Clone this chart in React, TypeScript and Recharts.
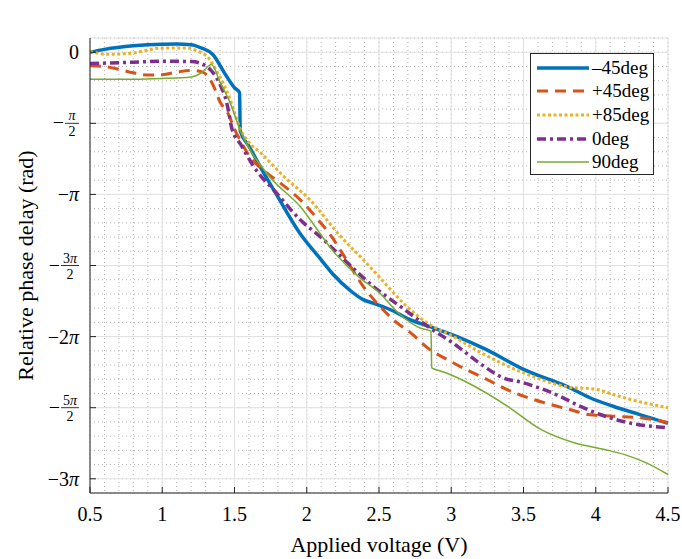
import { CartesianGrid, Legend, Line, LineChart, XAxis, YAxis } from "recharts";

const FONT = '"Liberation Serif", "Times New Roman", serif';
const INK = "#262626";

// applied voltage (V) and relative phase delay in units of pi, one pair per polarization
const voltsM45 = [0.5, 0.6, 0.8, 1.0, 1.1, 1.2, 1.27, 1.35, 1.43, 1.5, 1.535, 1.54, 1.6, 1.7, 1.79, 1.95, 2.1, 2.18, 2.3, 2.39, 2.46, 2.6, 2.69, 2.88, 3.04, 3.24, 3.5, 3.8, 3.96, 4.12, 4.31, 4.5];
const phaseM45 = [0, 0.02, 0.045, 0.056, 0.057, 0.053, 0.03, -0.016, -0.145, -0.25, -0.285, -0.555, -0.66, -0.845, -1.0, -1.27, -1.46, -1.56, -1.675, -1.74, -1.765, -1.82, -1.87, -1.94, -2.0, -2.09, -2.23, -2.35, -2.43, -2.49, -2.55, -2.61];

const voltsP45 = [0.5, 0.6, 0.7, 0.8, 0.9, 1.0, 1.1, 1.2, 1.28, 1.35, 1.4, 1.455, 1.5, 1.54, 1.61, 1.7, 1.815, 1.976, 2.08, 2.17, 2.25, 2.4, 2.507, 2.62, 2.715, 2.85, 2.97, 3.1, 3.245, 3.38, 3.5, 3.66, 3.82, 3.96, 4.12, 4.31, 4.5];
const phaseP45 = [-0.095, -0.1, -0.12, -0.145, -0.16, -0.158, -0.14, -0.128, -0.14, -0.227, -0.35, -0.43, -0.54, -0.62, -0.74, -0.83, -0.918, -1.059, -1.18, -1.294, -1.42, -1.66, -1.788, -1.9, -1.97, -2.09, -2.16, -2.23, -2.3, -2.37, -2.419, -2.47, -2.513, -2.55, -2.56, -2.571, -2.604];

const voltsP85 = [0.5, 0.62, 0.8, 0.98, 1.17, 1.245, 1.32, 1.37, 1.42, 1.47, 1.5, 1.54, 1.6, 1.68, 1.84, 2.02, 2.23, 2.41, 2.51, 2.69, 2.85, 3.01, 3.2, 3.5, 3.8, 4.01, 4.12, 4.24, 4.5];
const phaseP85 = [0.005, -0.015, -0.005, 0.028, 0.03, 0.007, -0.04, -0.12, -0.215, -0.333, -0.426, -0.54, -0.635, -0.707, -0.872, -1.036, -1.29, -1.48, -1.59, -1.786, -1.915, -1.997, -2.11, -2.255, -2.353, -2.372, -2.407, -2.442, -2.5];

const voltsZero = [0.5, 0.8, 1.0, 1.2, 1.27, 1.33, 1.37, 1.41, 1.44, 1.46, 1.48, 1.55, 1.63, 1.79, 1.953, 2.115, 2.25, 2.46, 2.645, 2.85, 3.01, 3.2, 3.36, 3.5, 3.75, 3.89, 4.03, 4.21, 4.5];
const phaseZero = [-0.08, -0.07, -0.063, -0.066, -0.08, -0.12, -0.17, -0.25, -0.33, -0.42, -0.53, -0.66, -0.8, -0.989, -1.177, -1.317, -1.45, -1.646, -1.786, -1.938, -2.044, -2.19, -2.29, -2.325, -2.419, -2.489, -2.548, -2.602, -2.641];

const voltsNinety = [0.5, 0.8, 1.0, 1.2, 1.27, 1.34, 1.4, 1.47, 1.54, 1.72, 1.953, 2.2, 2.36, 2.5, 2.645, 2.78, 2.86, 2.865, 2.92, 3.0, 3.16, 3.39, 3.62, 3.85, 4.06, 4.2, 4.35, 4.5];
const phaseNinety = [-0.19, -0.19, -0.185, -0.174, -0.145, -0.087, -0.21, -0.356, -0.55, -0.848, -1.083, -1.42, -1.58, -1.69, -1.845, -1.938, -1.962, -2.22, -2.24, -2.27, -2.349, -2.49, -2.653, -2.747, -2.794, -2.83, -2.888, -2.97];

const xTicks = [0.5, 1, 1.5, 2, 2.5, 3, 3.5, 4, 4.5];
const yTicks = [-3, -2.5, -2, -1.5, -1, -0.5, 0];
const yTickLabels = ["−3π", "−5π/2", "−2π", "−3π/2", "−π", "−π/2", "0"];

// minor grid every 0.1 V and every pi/10
const xMinorTicks = Array.from({ length: 41 }, (_, i) => Math.round((0.5 + i * 0.1) * 10) / 10);
const yMinorTicks = Array.from({ length: 33 }, (_, i) => Math.round((-3.1 + i * 0.1) * 10) / 10);

const zip = (volts: number[], phase: number[]) => volts.map((v, i) => ({ v, p: phase[i] }));

const series = [
  { key: "m45", name: "–45deg", data: zip(voltsM45, phaseM45), color: "#0072BD", width: 3.5, dash: undefined },
  { key: "p45", name: "+45deg", data: zip(voltsP45, phaseP45), color: "#D95319", width: 3, dash: "11 7" },
  { key: "p85", name: "+85deg", data: zip(voltsP85, phaseP85), color: "#EDB120", width: 3, dash: "3 2.5" },
  { key: "zero", name: "0deg", data: zip(voltsZero, phaseZero), color: "#7E2F8E", width: 3.5, dash: "9 4 3 4" },
  { key: "ninety", name: "90deg", data: zip(voltsNinety, phaseNinety), color: "#77AC30", width: 1.5, dash: undefined },
];

function VoltTick({ x, y, payload }: any) {
  return (
    <g>
      <line x1={x} x2={x} y1={y} y2={y - 6} stroke={INK} />
      <text x={x} y={y + 28} textAnchor="middle" fontFamily={FONT} fontSize={20} fill="#000">
        {payload.value}
      </text>
    </g>
  );
}

function TopTick({ x, y }: any) {
  return <line x1={x} x2={x} y1={y} y2={y + 6} stroke={INK} />;
}

function RightTick({ x, y }: any) {
  return <line x1={x} x2={x - 6} y1={y} y2={y} stroke={INK} />;
}

function PiTick({ x, y, payload }: any) {
  const label = yTickLabels[yTicks.indexOf(payload.value)] ?? "";
  const right = x - 11;
  let body;
  if (label.includes("/")) {
    const [top, den] = label.slice(1).split("/");
    const w = top.length > 1 ? 18 : 14;
    body = (
      <>
        <text x={right - w - 1} y={y + 6} textAnchor="end" fontSize={20}>−</text>
        <line x1={right - w} x2={right} y1={y} y2={y} stroke="#000" strokeWidth={0.8} />
        <text x={right - w / 2} y={y - 3} textAnchor="middle" fontSize={14}>
          {top.replace("π", "")}
          <tspan fontStyle="italic">π</tspan>
        </text>
        <text x={right - w / 2} y={y + 13} textAnchor="middle" fontSize={14}>
          {den}
        </text>
      </>
    );
  } else if (label.includes("π")) {
    body = (
      <text x={right} y={y + 7} textAnchor="end" fontSize={20}>
        {label.replace("π", "")}
        <tspan fontStyle="italic">π</tspan>
      </text>
    );
  } else {
    body = (
      <text x={right} y={y + 7} textAnchor="end" fontSize={20}>
        {label}
      </text>
    );
  }
  return (
    <g fontFamily={FONT} fill="#000">
      <line x1={x} x2={x + 6} y1={y} y2={y} stroke={INK} />
      {body}
    </g>
  );
}

function ChartTitle() {
  return (
    <text x={379} y={26} textAnchor="middle" fontFamily={FONT} fontSize={22} fontWeight="bold" fill="#000">
      Phase modulation
    </text>
  );
}

function XTitle() {
  return (
    <text x={379} y={552} textAnchor="middle" fontFamily={FONT} fontSize={22} fill="#000">
      Applied voltage (V)
    </text>
  );
}

function YTitle() {
  return (
    <text x={33} y={265.5} transform="rotate(-90 33 265.5)" textAnchor="middle" fontFamily={FONT} fontSize={22} fill="#000">
      Relative phase delay (rad)
    </text>
  );
}

function LegendBox() {
  const rows = [15, 38, 62, 86, 109];
  return (
    <svg width={124} height={122} style={{ display: "block" }}>
      <rect x={0.5} y={0.5} width={123} height={121} fill="#fff" stroke={INK} />
      {series.map((s, i) => (
        <g key={s.key}>
          <line x1={7} x2={59} y1={rows[i]} y2={rows[i]} stroke={s.color} strokeWidth={s.width} strokeDasharray={s.dash} />
          <text x={62} y={rows[i] + 6} fontFamily={FONT} fontSize={19} fill="#000">
            {s.name}
          </text>
        </g>
      ))}
    </svg>
  );
}

export default function App() {
  return (
    <div style={{ position: "absolute", left: 0, top: 0, background: "#fff" }}>
      <LineChart width={682} height={559} margin={{ top: 38, right: 14, bottom: 36, left: 30 }}>
        <CartesianGrid
          stroke="#b4b4b4"
          strokeDasharray="1 3"
          verticalValues={xMinorTicks}
          horizontalValues={yMinorTicks}
        />
        <CartesianGrid stroke="#e2e2e2" />
        <XAxis
          type="number"
          dataKey="v"
          domain={[0.5, 4.5]}
          ticks={xTicks}
          interval={0}
          height={30}
          tickSize={0}
          tickMargin={0}
          tickLine={false}
          axisLine={{ stroke: INK }}
          tick={<VoltTick />}
          label={<XTitle />}
        />
        <XAxis
          xAxisId="top"
          orientation="top"
          type="number"
          domain={[0.5, 4.5]}
          ticks={xTicks}
          interval={0}
          height={0}
          tickSize={0}
          tickMargin={0}
          tickLine={false}
          axisLine={{ stroke: INK }}
          tick={<TopTick />}
          label={<ChartTitle />}
        />
        <YAxis
          type="number"
          domain={[-3.1, 0.1]}
          ticks={yTicks}
          interval={0}
          width={60}
          tickSize={0}
          tickMargin={0}
          tickLine={false}
          axisLine={{ stroke: INK }}
          tick={<PiTick />}
          label={<YTitle />}
        />
        <YAxis
          yAxisId="right"
          orientation="right"
          type="number"
          domain={[-3.1, 0.1]}
          ticks={yTicks}
          interval={0}
          width={0}
          tickSize={0}
          tickMargin={0}
          tickLine={false}
          axisLine={{ stroke: INK }}
          tick={<RightTick />}
        />
        <Legend
          layout="vertical"
          align="center"
          verticalAlign="middle"
          wrapperStyle={{ left: 530, top: 53, width: 124, height: 122 }}
          content={<LegendBox />}
        />
        {series.map((s) => (
          <Line
            key={s.key}
            data={s.data}
            dataKey="p"
            name={s.name}
            type="monotone"
            stroke={s.color}
            strokeWidth={s.width}
            strokeDasharray={s.dash}
            dot={false}
            activeDot={false}
            isAnimationActive={false}
          />
        ))}
      </LineChart>
    </div>
  );
}
